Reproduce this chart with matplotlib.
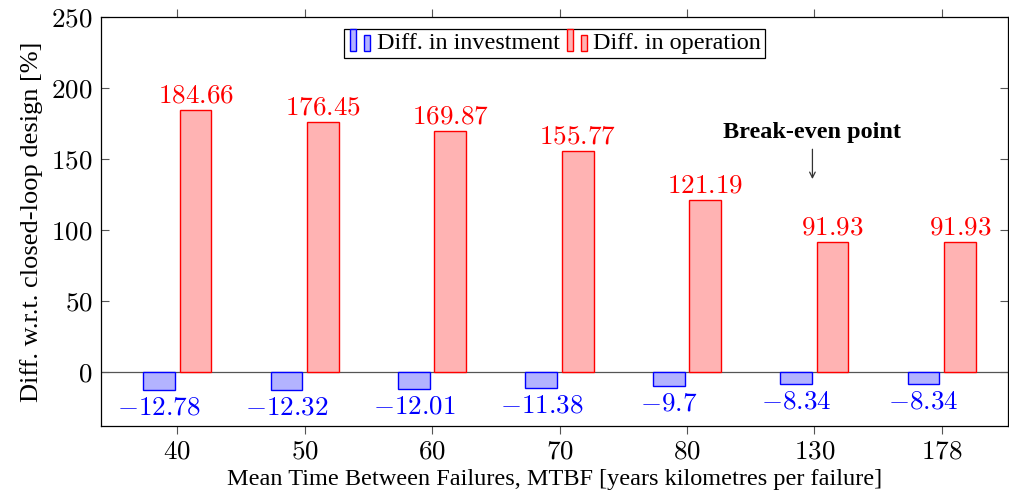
import matplotlib
matplotlib.use("Agg")
import matplotlib.pyplot as plt
import numpy as np
from matplotlib.legend_handler import HandlerBase
from matplotlib.patches import Rectangle

plt.rcParams['font.family'] = ['Liberation Serif', 'DejaVu Serif']
plt.rcParams['mathtext.fontset'] = 'cm'

# data
mtbf = ['40', '50', '60', '70', '80', '130', '178']
diff_invest = [-12.78, -12.32, -12.01, -11.38, -9.7, -8.34, -8.34]
diff_oper = [184.66, 176.45, 169.87, 155.77, 121.19, 91.93, 91.93]
invest_labels = ['-12.78', '-12.32', '-12.01', '-11.38', '-9.7', '-8.34', '-8.34']
oper_labels = ['184.66', '176.45', '169.87', '155.77', '121.19', '91.93', '91.93']
yticks = [0, 50, 100, 150, 200, 250]

blue_fill = (0.7, 0.7, 1.0)
red_fill = (1.0, 0.7, 0.7)
num_fs = 19.5


class HandlerTwoBars(HandlerBase):
    """legenda stile pgfplots ybar: due barrette affiancate"""
    def create_artists(self, legend, orig_handle, xdescent, ydescent,
                       width, height, fontsize, trans):
        fc = orig_handle.get_facecolor()
        ec = orig_handle.get_edgecolor()
        bw = width * 0.22
        h = height * 1.3
        y0 = -ydescent - height * 0.12
        r1 = Rectangle((-xdescent + width * 0.1, y0), bw, h,
                       facecolor=fc, edgecolor=ec, lw=1.0, transform=trans)
        r2 = Rectangle((-xdescent + width * 0.62, y0), bw, h * 0.75,
                       facecolor=fc, edgecolor=ec, lw=1.0, transform=trans)
        return [r1, r2]


fig = plt.figure(figsize=(10.09, 4.92), dpi=100)
ax = fig.add_axes([0.1, 0.134, 0.899, 0.831])

x = np.arange(len(mtbf))
bw = 0.25
off = 0.143
ax.bar(x - off, diff_invest, bw, color=blue_fill, edgecolor='blue', lw=1.0, zorder=3)
ax.bar(x + off, diff_oper, bw, color=red_fill, edgecolor='red', lw=1.0, zorder=3)

for xi, v, s in zip(x, diff_invest, invest_labels):
    ax.annotate(r'$%s$' % s, (xi - off, v), xytext=(0, -4), textcoords='offset points',
                ha='center', va='top', color='blue', fontsize=num_fs)
for xi, v, s in zip(x, diff_oper, oper_labels):
    ax.annotate(r'$%s$' % s, (xi + off, v), xytext=(0, 1), textcoords='offset points',
                ha='center', va='bottom', color='red', fontsize=num_fs)

ax.axhline(0, color='#555555', lw=0.9, zorder=2)

# break-even point: testo e freccia
ax.text(4.985, 169, 'Break-even point', ha='center', va='center',
        fontsize=17.5, fontweight='bold')
ax.annotate('', xy=(4.985, 136), xytext=(4.985, 157),
            arrowprops=dict(arrowstyle='->', color='#333333', lw=0.9,
                            shrinkA=0, shrinkB=0))

ax.set_xlim(-0.6, 6.52)
ax.set_ylim(-38, 250)
ax.set_xticks(x)
ax.set_xticklabels([r'$%s$' % m for m in mtbf], fontsize=num_fs)
ax.set_yticks(yticks)
ax.set_yticklabels([r'$%d$' % t for t in yticks], fontsize=num_fs)
ax.tick_params(axis='x', direction='out', top=True, length=6, width=0.8,
               color='#555555', pad=4)
ax.tick_params(axis='y', direction='in', right=True, length=6, width=0.8,
               color='#555555', pad=6)
for sp in ax.spines.values():
    sp.set_linewidth(0.9)

ax.set_xlabel('Mean Time Between Failures, MTBF [years kilometres per failure]',
              fontsize=17.5, labelpad=3)
ax.set_ylabel('Diff. w.r.t. closed-loop design [%]', fontsize=19, labelpad=6)

h_inv = Rectangle((0, 0), 1, 1, facecolor=blue_fill, edgecolor='blue')
h_op = Rectangle((0, 0), 1, 1, facecolor=red_fill, edgecolor='red')
leg = ax.legend([h_inv, h_op], ['Diff. in investment', 'Diff. in operation'],
                loc='upper center', ncol=2, fontsize=17.4,
                handler_map={Rectangle: HandlerTwoBars()},
                frameon=True, fancybox=False, edgecolor='black', framealpha=1,
                handlelength=1.1, handletextpad=0.1, columnspacing=0.2,
                borderpad=0.15, bbox_to_anchor=(0.5, 0.99), borderaxespad=0.3)
leg.get_frame().set_linewidth(0.9)

fig.savefig('out.png', dpi=100)
